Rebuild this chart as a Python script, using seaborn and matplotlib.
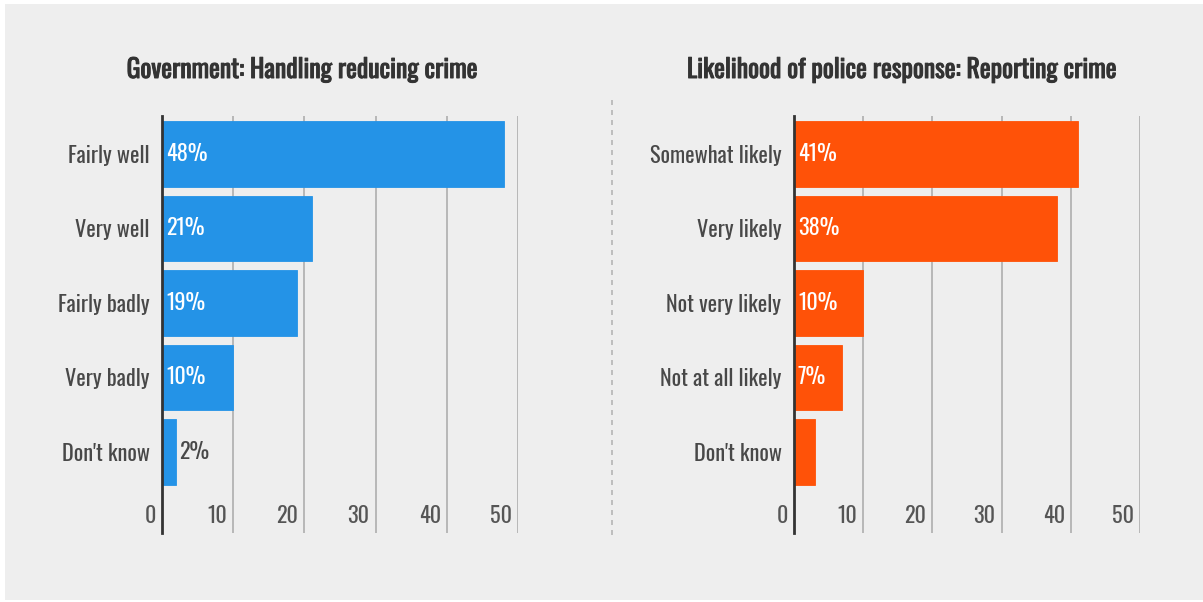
import matplotlib
matplotlib.use("Agg")
import matplotlib.pyplot as plt
import matplotlib.patheffects as pe
from matplotlib.patches import Rectangle
from matplotlib.lines import Line2D
from matplotlib.transforms import offset_copy
import seaborn as sns
import pandas as pd

# Survey results (percent of respondents)
gov_categories = ["Fairly well", "Very well", "Fairly badly", "Very badly", "Don't know"]
gov_values = [48, 21, 19, 10, 2]
gov_labels = ["48%", "21%", "19%", "10%", "2%"]

police_categories = ["Somewhat likely", "Very likely", "Not very likely", "Not at all likely", "Don't know"]
police_values = [41, 38, 10, 7, 3]
police_labels = ["41%", "38%", "10%", "7%", ""]

x_ticks = [0, 10, 20, 30, 40, 50]
x_tick_labels = ["0", "10", "20", "30", "40", "50"]

titles = ["Government: Handling reducing crime",
          "Likelihood of police response: Reporting crime"]

BG = "#eeeeee"
BLUE = "#2493e7"
ORANGE = "#ff5208"
TEXT = "#484848"
TITLE = "#333333"
GRID = "#a8a8a8"

sns.set_theme(style="white")
plt.rcParams["font.family"] = ["Oswald", "DejaVu Sans"]

W, H = 1203, 602
fig = plt.figure(figsize=(W / 100, H / 100), dpi=100, facecolor="white")

# light panel behind both charts
fig.patches.append(Rectangle((5 / W, 2 / H), 1 - 5 / W, 1 - 6 / H,
                             transform=fig.transFigure, facecolor=BG,
                             edgecolor="none", zorder=-5))

# dashed divider between the two charts
fig.lines.append(Line2D([612 / W, 612 / W], [1 - 100 / H, 1 - 540 / H],
                        transform=fig.transFigure, color="#b5b5b5",
                        lw=1.2, ls=(0, (3, 3)), zorder=1))

panels = [
    dict(rect=(162, 116, 518, 533), cats=gov_categories, vals=gov_values,
         labels=gov_labels, color=BLUE, title=titles[0], title_x=302),
    dict(rect=(794, 116, 1140, 533), cats=police_categories, vals=police_values,
         labels=police_labels, color=ORANGE, title=titles[1], title_x=902),
]

FS = 16

for p in panels:
    x0, y0, x1, y1 = p["rect"]
    ax = fig.add_axes([x0 / W, 1 - y1 / H, (x1 - x0) / W, (y1 - y0) / H])
    ax.set_facecolor("none")
    ax.set_zorder(2)
    df = pd.DataFrame({"category": p["cats"], "value": p["vals"]})
    sns.barplot(data=df, x="value", y="category", orient="h", color=p["color"],
                saturation=1, width=0.88, ax=ax, edgecolor=p["color"], linewidth=0.6)

    ax.set_xlim(0, 50)
    ax.set_ylim(5.09, -0.51)
    ax.set_xlabel("")
    ax.set_ylabel("")

    # vertical gridlines
    ax.set_xticks(x_ticks)
    ax.set_xticklabels([])
    ax.tick_params(axis="x", length=0)
    ax.grid(axis="x", color=GRID, lw=1.1)
    ax.grid(axis="y", visible=False)
    ax.set_axisbelow(True)
    for side in ["top", "right", "bottom"]:
        ax.spines[side].set_visible(False)
    ax.spines["left"].set_color("#333333")
    ax.spines["left"].set_linewidth(2)
    ax.spines["left"].set_zorder(5)

    # category labels
    ax.tick_params(axis="y", length=0, pad=9, labelsize=FS, labelcolor=TEXT)
    for t in ax.get_yticklabels():
        t.set_fontfamily(["Oswald", "DejaVu Sans"])

    # tick values sit inside the plot, left of each gridline
    tick_tr = offset_copy(ax.get_xaxis_transform(), fig=fig, x=-6, y=0, units="dots")
    for xv, lab in zip(x_ticks, x_tick_labels):
        ax.text(xv, 0.04, lab, transform=tick_tr, ha="right", va="center",
                fontsize=FS, color="#555555")

    # value labels
    in_tr = offset_copy(ax.transData, fig=fig, x=4, y=0, units="dots")
    out_tr = offset_copy(ax.transData, fig=fig, x=3, y=0, units="dots")
    for i, (v, lab) in enumerate(zip(p["vals"], p["labels"])):
        if not lab:
            continue
        if v >= 5:
            ax.text(0, i, lab, transform=in_tr, ha="left", va="center",
                    fontsize=FS, color="white")
        else:
            ax.text(v, i, lab, transform=out_tr, ha="left", va="center",
                    fontsize=FS, color=TEXT)

    fig.text(p["title_x"] / W, 1 - 70 / H, p["title"], ha="center", va="center",
             fontsize=18.5, color=TITLE,
             path_effects=[pe.withStroke(linewidth=0.7, foreground=TITLE)])

fig.savefig("out.png", dpi=100, facecolor="white")
